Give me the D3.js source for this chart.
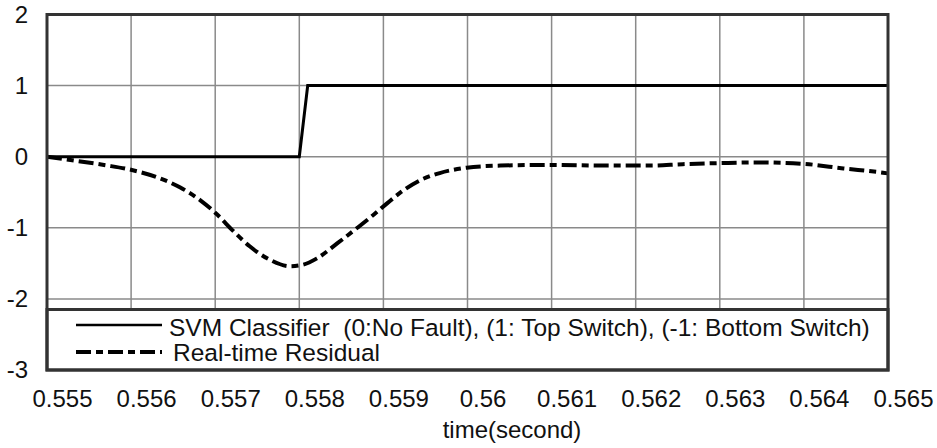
<!DOCTYPE html>
<html>
<head>
<meta charset="utf-8">
<script src="https://cdn.jsdelivr.net/npm/d3@7"></script>
<style>
  html, body { margin: 0; padding: 0; background: #fff; }
  svg { display: block; font-family: "Liberation Sans", Arial, sans-serif; }
</style>
</head>
<body>
<svg id="chart" width="937" height="448"></svg>
<script>
// Time ticks (s) and residual-axis ticks
const xTicks = [0.555, 0.556, 0.557, 0.558, 0.559, 0.56, 0.561, 0.562, 0.563, 0.564, 0.565];
const xTickLabels = ["0.555", "0.556", "0.557", "0.558", "0.559", "0.56", "0.561", "0.562", "0.563", "0.564", "0.565"];
const yTicks = [2, 1, 0, -1, -2, -3];
const yTickLabels = ["2", "1", "0", "-1", "-2", "-3"];

// SVM classifier output (0: no fault, 1: top switch, -1: bottom switch)
const svmTime = [0.555, 0.558, 0.5581, 0.565];
const svmValue = [0, 0, 1, 1];

// Real-time residual
const residualTime = [
  0.555, 0.5553, 0.5557, 0.55602, 0.55631, 0.55658, 0.55682, 0.55702,
  0.55721, 0.55741, 0.55765, 0.55789, 0.55804, 0.55821, 0.55845, 0.55869,
  0.55888, 0.55904, 0.55923, 0.55944, 0.55967, 0.55999, 0.56039, 0.56102,
  0.56161, 0.56217, 0.56256, 0.563, 0.56348, 0.56399, 0.56447, 0.56494, 0.565
];
const residualValue = [
  0, -0.05, -0.12, -0.19, -0.29, -0.43, -0.61, -0.81,
  -1.04, -1.26, -1.45, -1.54, -1.52, -1.43, -1.22, -1.00,
  -0.82, -0.66, -0.48, -0.33, -0.23, -0.155, -0.125, -0.115,
  -0.125, -0.125, -0.105, -0.09, -0.08, -0.10, -0.165, -0.225, -0.235
];

const legendLabels = [
  "SVM Classifier  (0:No Fault), (1: Top Switch), (-1: Bottom Switch)",
  "Real-time Residual"
];
const xTitle = "time(second)";

const svg = d3.select("#chart");
const plotLeft = 47, plotRight = 888, plotTop = 14.5, plotBottom = 370;
const font = "'Liberation Sans', Arial, sans-serif";

const x = d3.scaleLinear().domain([0.555, 0.565]).range([plotLeft, plotRight]);
const y = d3.scaleLinear().domain([-3, 2]).range([plotBottom, plotTop]);

// Grid
const grid = svg.append("g").attr("stroke", "#8a8a8a").attr("stroke-width", 1.5);
grid.selectAll("line.v").data(xTicks).join("line").attr("class", "v")
  .attr("x1", d => x(d)).attr("x2", d => x(d))
  .attr("y1", plotTop).attr("y2", plotBottom);
grid.selectAll("line.h").data(yTicks).join("line").attr("class", "h")
  .attr("x1", plotLeft).attr("x2", plotRight)
  .attr("y1", d => y(d)).attr("y2", d => y(d));

// Series
const svmData = svmTime.map((t, i) => [t, svmValue[i]]);
const resData = residualTime.map((t, i) => [t, residualValue[i]]);

svg.append("path").datum(resData)
  .attr("fill", "none").attr("stroke", "#000").attr("stroke-width", 4)
  .attr("stroke-dasharray", "15,5,7,5")
  .attr("d", d3.line().x(d => x(d[0])).y(d => y(d[1])).curve(d3.curveMonotoneX));

svg.append("path").datum(svmData)
  .attr("fill", "none").attr("stroke", "#000").attr("stroke-width", 3)
  .attr("d", d3.line().x(d => x(d[0])).y(d => y(d[1])));

// Legend box
const lg = svg.append("g");
lg.append("rect")
  .attr("x", plotLeft).attr("y", 309.5).attr("width", plotRight - plotLeft).attr("height", plotBottom - 309.5)
  .attr("fill", "#fff").attr("stroke", "#333").attr("stroke-width", 3);
lg.append("line").attr("x1", 76).attr("x2", 162).attr("y1", 325).attr("y2", 325)
  .attr("stroke", "#000").attr("stroke-width", 2.5);
lg.append("line").attr("x1", 76).attr("x2", 162).attr("y1", 352).attr("y2", 352)
  .attr("stroke", "#000").attr("stroke-width", 4).attr("stroke-dasharray", "15,5,7,5");
lg.selectAll("text").data(legendLabels).join("text")
  .attr("x", (d, i) => i === 0 ? 169 : 173)
  .attr("y", (d, i) => i === 0 ? 336 : 361)
  .attr("font-size", 24.5).attr("fill", "#111")
  .style("white-space", "pre")
  .text(d => d);

// Frame
svg.append("rect")
  .attr("x", plotLeft).attr("y", plotTop).attr("width", plotRight - plotLeft).attr("height", plotBottom - plotTop)
  .attr("fill", "none").attr("stroke", "#333").attr("stroke-width", 3);

// Axes (labels only)
const xAxis = svg.append("g").attr("transform", `translate(15,${plotBottom})`)
  .call(d3.axisBottom(x).tickValues(xTicks).tickFormat((d, i) => xTickLabels[i]).tickSize(0).tickPadding(20));
xAxis.select(".domain").remove();
xAxis.selectAll("text").attr("font-size", 24).attr("fill", "#111").attr("font-family", font);

const yAxis = svg.append("g").attr("transform", `translate(${plotLeft},0)`)
  .call(d3.axisLeft(y).tickValues(yTicks).tickFormat((d, i) => yTickLabels[i]).tickSize(0).tickPadding(19));
yAxis.select(".domain").remove();
yAxis.selectAll("text").attr("font-size", 24).attr("fill", "#111").attr("font-family", font);

svg.append("text").attr("x", 512).attr("y", 438).attr("text-anchor", "middle")
  .attr("font-size", 24).attr("fill", "#111").text(xTitle);
</script>
</body>
</html>
